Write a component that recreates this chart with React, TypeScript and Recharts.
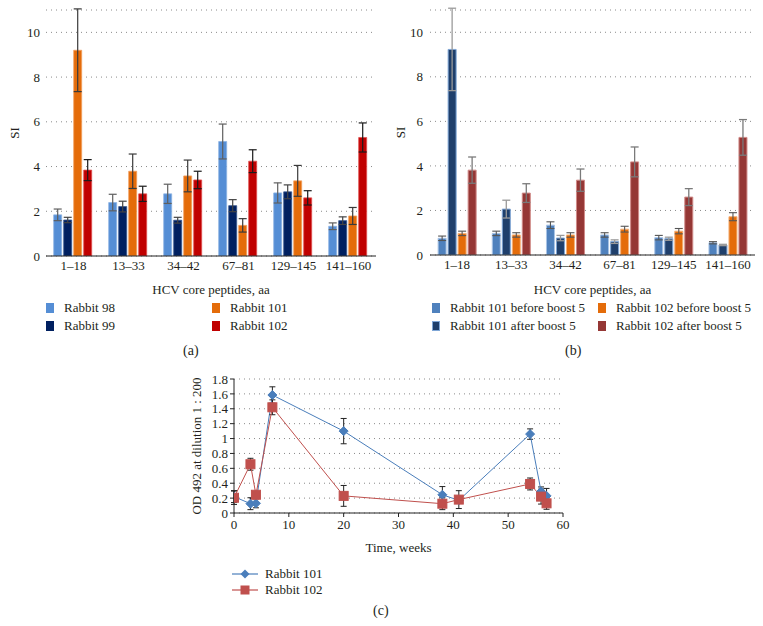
import React from 'react';
import { BarChart, Bar, XAxis, YAxis, CartesianGrid, ErrorBar, LineChart, Line, Label } from 'recharts';

const FONT = "'Liberation Serif', 'Times New Roman', 'DejaVu Serif', serif";
const TXT = '#231f20';

// ---- shared categories ----
const categories = ['1–18', '13–33', '34–42', '67–81', '129–145', '141–160'];

// ---- panel (a) ----
const rabbit98 = [1.84, 2.39, 2.78, 5.12, 2.82, 1.33];
const err98 = [0.26, 0.37, 0.43, 0.78, 0.45, 0.15];
const rabbit99 = [1.61, 2.21, 1.6, 2.25, 2.87, 1.58];
const err99 = [0.12, 0.24, 0.13, 0.27, 0.31, 0.17];
const rabbit101 = [9.2, 3.79, 3.58, 1.37, 3.36, 1.79];
const err101 = [1.85, 0.77, 0.71, 0.3, 0.69, 0.38];
const rabbit102 = [3.84, 2.78, 3.4, 4.24, 2.6, 5.3];
const err102 = [0.47, 0.34, 0.39, 0.51, 0.32, 0.65];

// ---- panel (b) ----
const r101Before = [0.75, 0.97, 1.34, 0.9, 0.78, 0.55];
const e101Before = [0.1, 0.1, 0.15, 0.1, 0.1, 0.05];
const r101After = [9.23, 2.06, 0.76, 0.6, 0.73, 0.45];
const e101After = [1.85, 0.4, 0.12, 0.08, 0.07, 0.03];
const r102Before = [0.97, 0.9, 0.9, 1.16, 1.07, 1.72];
const e102Before = [0.1, 0.1, 0.1, 0.13, 0.12, 0.18];
const r102After = [3.81, 2.78, 3.36, 4.18, 2.6, 5.28];
const e102After = [0.59, 0.42, 0.5, 0.67, 0.38, 0.8];

const siTicks = [0, 2, 4, 6, 8, 10];

// ---- panel (c) ----
const weeks = [0, 3, 4, 7, 20, 38, 41, 54, 56, 57];
const od101 = [0.22, 0.125, 0.13, 1.585, 1.1, 0.245, 0.17, 1.06, 0.29, 0.23];
const odErr101 = [0.08, 0.08, 0.06, 0.11, 0.17, 0.11, 0.0, 0.07, 0.06, 0.1];
const od102 = [0.205, 0.655, 0.245, 1.42, 0.23, 0.125, 0.18, 0.39, 0.22, 0.13];
const odErr102 = [0.09, 0.08, 0.04, 0.1, 0.14, 0.08, 0.12, 0.08, 0.1, 0.08];
const odTicks = [0, 0.2, 0.4, 0.6, 0.8, 1, 1.2, 1.4, 1.6, 1.8];
const weekTicks = [0, 10, 20, 30, 40, 50, 60];

const dataA = categories.map((c, i) => ({
  cat: c,
  r98: rabbit98[i], e98: err98[i],
  r99: rabbit99[i], e99: err99[i],
  r101: rabbit101[i], e101: err101[i],
  r102: rabbit102[i], e102: err102[i],
}));

const dataB = categories.map((c, i) => ({
  cat: c,
  b101: r101Before[i], eb101: e101Before[i],
  a101: r101After[i], ea101: e101After[i],
  b102: r102Before[i], eb102: e102Before[i],
  a102: r102After[i], ea102: e102After[i],
}));

const data101 = weeks.map((t, i) => ({ t, od: od101[i], err: odErr101[i] }));
const data102 = weeks.map((t, i) => ({ t, od: od102[i], err: odErr102[i] }));

const tickStyle = { fill: TXT, fontSize: 13, fontFamily: FONT };
const labelStyle = { fill: TXT, fontSize: 13, fontFamily: FONT };

const Diamond = (props: any) => {
  const { cx, cy, index } = props;
  if (cx == null || cy == null) return <g key={index} />;
  const r = 4.5;
  return <path key={index} d={`M${cx},${cy - r}L${cx + r},${cy}L${cx},${cy + r}L${cx - r},${cy}Z`} fill="#4a7ebb" stroke="#4a7ebb" />;
};
const Square = (props: any) => {
  const { cx, cy, index } = props;
  if (cx == null || cy == null) return <g key={index} />;
  const r = 4.5;
  return <rect key={index} x={cx - r} y={cy - r} width={2 * r} height={2 * r} fill="#c0504d" stroke="#c0504d" />;
};

const abs = (left: number, top: number): React.CSSProperties => ({ position: 'absolute', left, top });

const LegendSq = ({ left, top, color, border, text }: any) => (
  <div style={{ ...abs(left, top), display: 'flex', alignItems: 'center', fontFamily: FONT, fontSize: 13, color: TXT, whiteSpace: 'nowrap' }}>
    <div style={{ width: 8, height: 10, background: color, border: border ? `1px solid ${border}` : 'none', boxSizing: 'border-box', marginRight: 10 }} />
    <span>{text}</span>
  </div>
);

const LegendLine = ({ left, top, color, shape, text }: any) => (
  <div style={{ ...abs(left, top), display: 'flex', alignItems: 'center', fontFamily: FONT, fontSize: 13, color: TXT, whiteSpace: 'nowrap' }}>
    <svg width={26} height={12} style={{ marginRight: 7 }}>
      <line x1={0} y1={6} x2={26} y2={6} stroke={color} strokeWidth={1.2} />
      {shape === 'diamond' ? (
        <path d="M13,1.5L17.5,6L13,10.5L8.5,6Z" fill={color} />
      ) : (
        <rect x={8.5} y={1.5} width={9} height={9} fill={color} />
      )}
    </svg>
    <span>{text}</span>
  </div>
);

const Caption = ({ left, top, text }: any) => (
  <div style={{ ...abs(left, top), fontFamily: FONT, fontSize: 14, color: TXT }}>{text}</div>
);

export default function App() {
  return (
    <div style={{ position: 'absolute', left: 0, top: 0, width: 763, height: 626, background: '#fff', overflow: 'hidden', fontFamily: FONT }}>
      {/* Panel (a) */}
      <div style={abs(0, 0)}>
        <BarChart width={390} height={300} data={dataA} margin={{ top: 10, right: 14, bottom: 0, left: 0 }} barCategoryGap="14%" barGap={2} style={{ fontFamily: FONT }}>
          <CartesianGrid vertical={false} stroke="#8a8a8a" strokeDasharray="1 4" />
          <XAxis dataKey="cat" interval={0} axisLine={{ stroke: '#222' }} tickLine={false} tickSize={3} tickMargin={2} height={44} tick={tickStyle}>
            <Label value="HCV core peptides, aa" position="insideBottom" offset={6} style={labelStyle} />
          </XAxis>
          <YAxis domain={[0, 11]} ticks={siTicks} interval={0} axisLine={false} tickLine={false} width={46} tickSize={4} tickMargin={2} tick={tickStyle} allowDataOverflow>
            <Label value="SI" angle={-90} position="center" dx={-9} style={labelStyle} />
          </YAxis>
          <Bar dataKey="r98" fill="#558ed5" stroke="#8db3e2" strokeWidth={0.8} isAnimationActive={false}>
            <ErrorBar dataKey="e98" direction="y" width={4} stroke="#5f5f5f" strokeWidth={1.2} />
          </Bar>
          <Bar dataKey="r99" fill="#002060" stroke="#3a5a90" strokeWidth={0.8} isAnimationActive={false}>
            <ErrorBar dataKey="e99" direction="y" width={4} stroke="#444" strokeWidth={1.2} />
          </Bar>
          <Bar dataKey="r101" fill="#e46c0a" stroke="#f2a060" strokeWidth={0.8} isAnimationActive={false}>
            <ErrorBar dataKey="e101" direction="y" width={4} stroke="#3a3a3a" strokeWidth={1.2} />
          </Bar>
          <Bar dataKey="r102" fill="#c00000" stroke="#e05050" strokeWidth={0.8} isAnimationActive={false}>
            <ErrorBar dataKey="e102" direction="y" width={4} stroke="#1a1a1a" strokeWidth={1.2} />
          </Bar>
        </BarChart>
      </div>
      <LegendSq left={46} top={300} color="#558ed5" text="Rabbit 98" />
      <LegendSq left={46} top={318} color="#002060" text="Rabbit 99" />
      <LegendSq left={212} top={300} color="#e46c0a" text="Rabbit 101" />
      <LegendSq left={212} top={318} color="#c00000" text="Rabbit 102" />
      <Caption left={183} top={343} text="(a)" />

      {/* Panel (b) */}
      <div style={abs(380, 0)}>
        <BarChart width={383} height={300} data={dataB} margin={{ top: 10, right: 8, bottom: 0, left: 0 }} barCategoryGap="15%" barGap={2} style={{ fontFamily: FONT }}>
          <CartesianGrid vertical={false} stroke="#8a8a8a" strokeDasharray="1 4" />
          <XAxis dataKey="cat" interval={0} axisLine={{ stroke: '#222' }} tickLine={false} tickSize={3} tickMargin={2} height={45} tick={tickStyle}>
            <Label value="HCV core peptides, aa" position="insideBottom" offset={6} style={labelStyle} />
          </XAxis>
          <YAxis domain={[0, 11]} ticks={siTicks} interval={0} axisLine={false} tickLine={false} width={50} tickSize={4} tickMargin={3} tick={tickStyle} allowDataOverflow>
            <Label value="SI" angle={-90} position="center" dx={-5} style={labelStyle} />
          </YAxis>
          <Bar dataKey="b101" fill="#4f81bd" stroke="#a9c4e6" strokeWidth={1} isAnimationActive={false}>
            <ErrorBar dataKey="eb101" direction="y" width={4} stroke="#555" strokeWidth={1.1} />
          </Bar>
          <Bar dataKey="a101" fill="#1f3f6b" stroke="#7fa6d6" strokeWidth={1} isAnimationActive={false}>
            <ErrorBar dataKey="ea101" direction="y" width={4} stroke="#9a9a9a" strokeWidth={1.3} />
          </Bar>
          <Bar dataKey="b102" fill="#e46c0a" stroke="#f5b27a" strokeWidth={1} isAnimationActive={false}>
            <ErrorBar dataKey="eb102" direction="y" width={4} stroke="#555" strokeWidth={1.1} />
          </Bar>
          <Bar dataKey="a102" fill="#953735" stroke="#d08a88" strokeWidth={1} isAnimationActive={false}>
            <ErrorBar dataKey="ea102" direction="y" width={4} stroke="#7a7a7a" strokeWidth={1.3} />
          </Bar>
        </BarChart>
      </div>
      <LegendSq left={432} top={300} color="#4f81bd" text="Rabbit 101 before boost 5" />
      <LegendSq left={432} top={318} color="#1f3f6b" border="#7fa6d6" text="Rabbit 101 after boost 5" />
      <LegendSq left={598} top={300} color="#e46c0a" text="Rabbit 102 before boost 5" />
      <LegendSq left={598} top={318} color="#953735" text="Rabbit 102 after boost 5" />
      <Caption left={565} top={343} text="(b)" />

      {/* Panel (c) */}
      <div style={abs(150, 365)}>
        <LineChart width={430} height={200} margin={{ top: 14, right: 17, bottom: 0, left: 0 }} style={{ fontFamily: FONT }}>
          <CartesianGrid vertical={false} stroke="#8a8a8a" strokeDasharray="1 4" />
          <XAxis type="number" dataKey="t" domain={[0, 60]} ticks={weekTicks} interval={0} axisLine={{ stroke: '#222' }} tickLine={{ stroke: '#222' }} tickSize={4} tickMargin={3} height={52} tick={tickStyle} allowDataOverflow>
            <Label value="Time, weeks" position="insideBottom" offset={13} style={labelStyle} />
          </XAxis>
          <YAxis type="number" domain={[0, 1.8]} ticks={odTicks} interval={0} axisLine={{ stroke: '#222' }} tickLine={{ stroke: '#222' }} width={84} tickSize={4} tickMargin={2} tick={tickStyle} allowDataOverflow>
            <Label value="OD 492 at dilution 1 : 200" angle={-90} position="center" dx={4} style={labelStyle} />
          </YAxis>
          <Line data={data101} dataKey="od" stroke="#4a7ebb" strokeWidth={1} dot={Diamond} activeDot={false} isAnimationActive={false}>
            <ErrorBar dataKey="err" direction="y" width={3} stroke="#222" strokeWidth={1} />
          </Line>
          <Line data={data102} dataKey="od" stroke="#c0504d" strokeWidth={1} dot={Square} activeDot={false} isAnimationActive={false}>
            <ErrorBar dataKey="err" direction="y" width={3} stroke="#222" strokeWidth={1} />
          </Line>
        </LineChart>
      </div>
      <LegendLine left={232} top={566} color="#4a7ebb" shape="diamond" text="Rabbit 101" />
      <LegendLine left={232} top={582} color="#c0504d" shape="square" text="Rabbit 102" />
      <Caption left={373} top={603} text="(c)" />
    </div>
  );
}
